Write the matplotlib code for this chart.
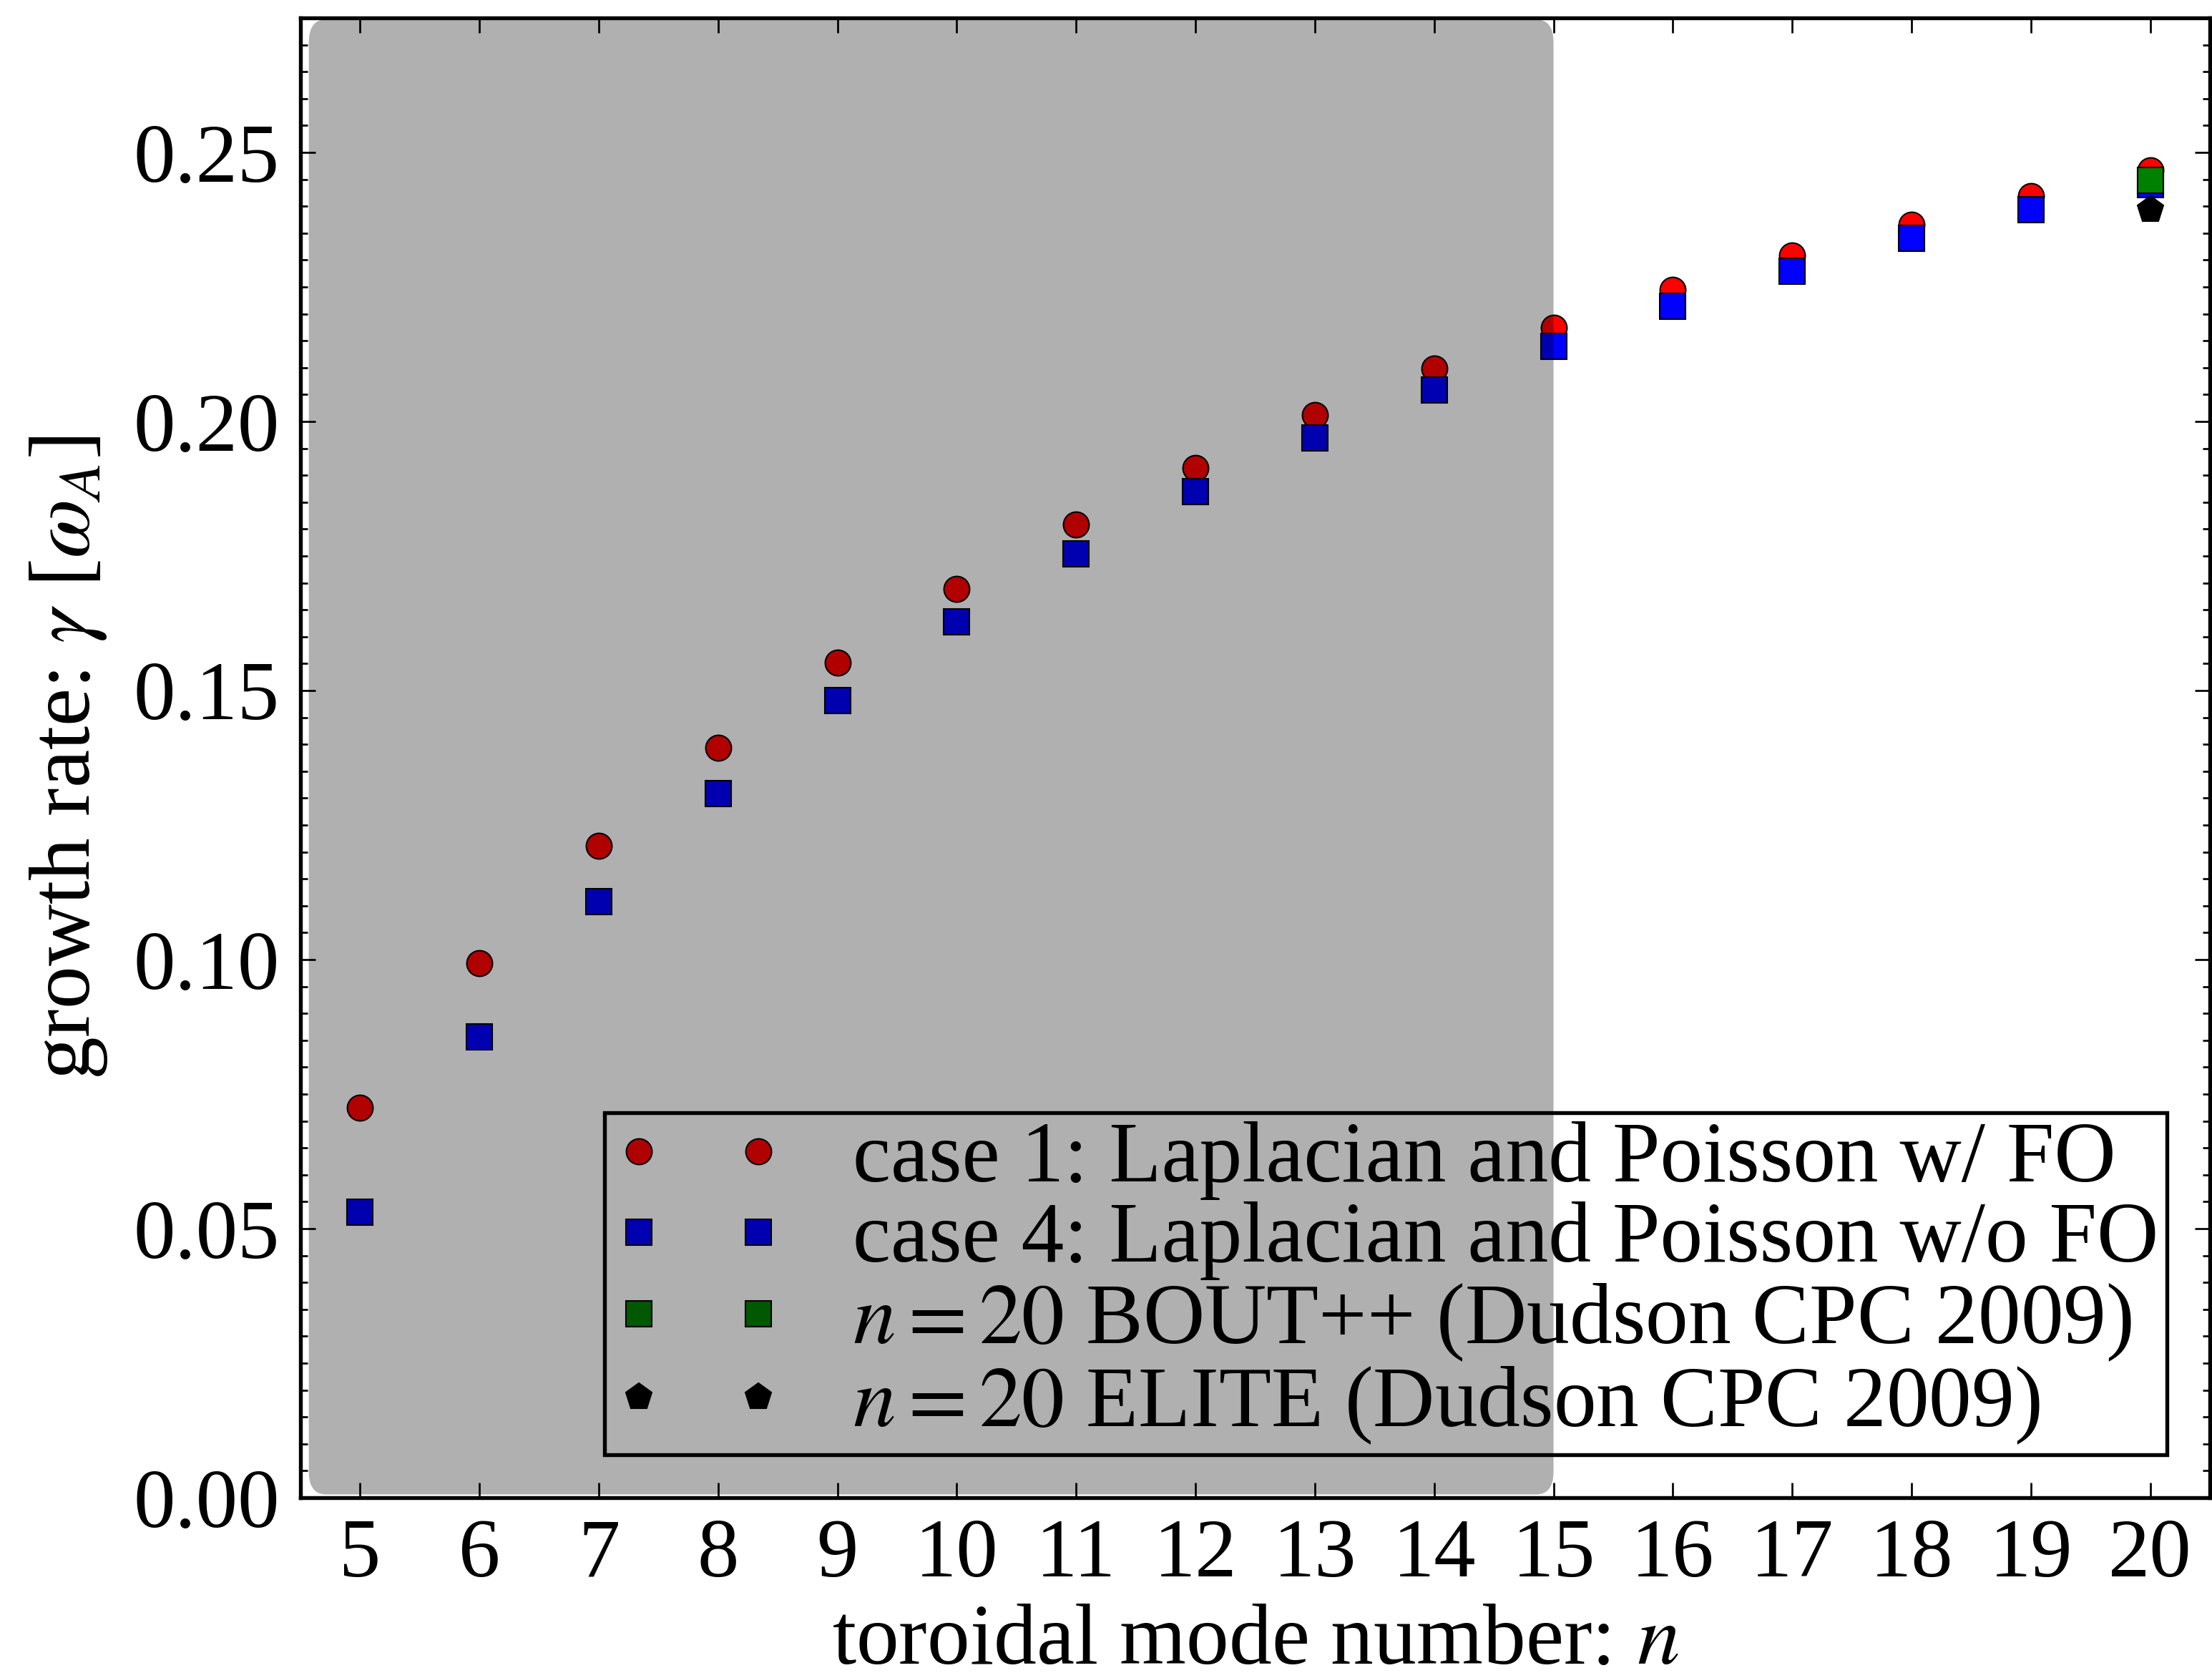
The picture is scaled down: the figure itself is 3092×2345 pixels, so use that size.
import numpy as np
import matplotlib
matplotlib.use("Agg")
import matplotlib.pyplot as plt
from matplotlib.patches import FancyBboxPatch

# ---- data ----
n_case1 = [5, 6, 7, 8, 9, 10, 11, 12, 13, 14, 15, 16, 17, 18, 19, 20]
gamma_case1 = [0.0725, 0.0993, 0.1211, 0.1394, 0.1552, 0.1689, 0.1809, 0.1914,
               0.2012, 0.2098, 0.2174, 0.2245, 0.2308, 0.2366, 0.2419, 0.2467]
n_case4 = [5, 6, 7, 8, 9, 10, 11, 12, 13, 14, 15, 16, 17, 18, 19, 20]
gamma_case4 = [0.0530, 0.0856, 0.1108, 0.1308, 0.1481, 0.1628, 0.1754, 0.1870,
               0.1970, 0.2059, 0.2140, 0.2214, 0.2279, 0.2340, 0.2394, 0.2440]
n_bout = [20]
gamma_bout = [0.2448]
n_elite = [20]
gamma_elite = [0.2394]

labels = [r"case 1: Laplacian and Poisson w/ FO",
          r"case 4: Laplacian and Poisson w/o FO",
          r"$n=20$ BOUT++ (Dudson CPC 2009)",
          r"$n=20$ ELITE (Dudson CPC 2009)"]
xticks = list(range(5, 21))
shade_x = (4.57, 15.0)

plt.rcParams['font.family'] = ['Liberation Serif', 'DejaVu Serif']
plt.rcParams['mathtext.fontset'] = 'stix'
plt.rcParams['font.size'] = 28

fig = plt.figure(figsize=(3092/300, 2345/300), dpi=300)
ax = fig.add_axes([420/3092, 1 - 2093/2345, (3089 - 420)/3092, (2093 - 25)/2345])

ms = 8.6
mew = 0.5
ax.plot(n_case1, gamma_case1, 'o', color='#ff0000', mec='k', ms=ms, mew=mew,
        label=labels[0], zorder=3)
ax.plot(n_case4, gamma_case4, 's', color='#0000ff', mec='k', ms=ms, mew=mew,
        label=labels[1], zorder=4)
ax.plot(n_bout, gamma_bout, 's', color='#008000', mec='k', ms=ms, mew=mew,
        label=labels[2], zorder=5)
ax.plot(n_elite, gamma_elite, 'p', color='k', mec='k', ms=ms + 0.6, mew=mew,
        label=labels[3], zorder=5)

ax.set_xlim(4.5, 20.5)
ax.set_ylim(0.0, 0.275)
ax.set_xticks(xticks)
ax.set_yticks(np.arange(0, 0.26, 0.05))
ax.yaxis.set_major_formatter(matplotlib.ticker.FormatStrFormatter('%.2f'))
ax.yaxis.set_minor_locator(matplotlib.ticker.MultipleLocator(0.005))
ax.tick_params(which='both', direction='in', top=True, right=True, width=0.65)
ax.tick_params(which='major', length=5, pad=7, labelsize=28)
ax.tick_params(which='minor', length=2.4)
ax.tick_params(axis='x', which='minor', bottom=False, top=False)
for sp in ax.spines.values():
    sp.set_linewidth(1.3)

ax.set_xlabel(r"toroidal mode number: $n$", fontsize=28.7, labelpad=3)
ax.set_ylabel(r"growth rate: $\gamma$ [$\omega_A$]", fontsize=28.7, labelpad=8)

leg = ax.legend(loc='lower right', numpoints=2, fontsize=28.7, frameon=True,
                fancybox=False, framealpha=1.0, handlelength=2.0,
                handletextpad=0.8, borderpad=0.1, labelspacing=0.02,
                borderaxespad=0.5)
leg.get_frame().set_facecolor('none')
leg.get_frame().set_edgecolor('k')
leg.get_frame().set_linewidth(1.3)
leg.set_zorder(6)

# shaded rounded region drawn on top with transparency
fig.canvas.draw()
p0 = ax.transData.transform((0, 0))
p1 = ax.transData.transform((1, 1))
px_per_x = p1[0] - p0[0]
px_per_y = p1[1] - p0[1]
rx = 24 / px_per_x
ry = 32 / px_per_y
ylo, yhi = 0.0006, 0.2747
patch = FancyBboxPatch((shade_x[0], ylo), shade_x[1] - shade_x[0], yhi - ylo,
                       boxstyle=f"round,pad=0,rounding_size={rx}",
                       mutation_aspect=ry / rx,
                       facecolor='k', edgecolor='none', alpha=0.31,
                       zorder=10, transform=ax.transData)
ax.add_patch(patch)

fig.savefig("out.png", dpi=300, facecolor='white')
